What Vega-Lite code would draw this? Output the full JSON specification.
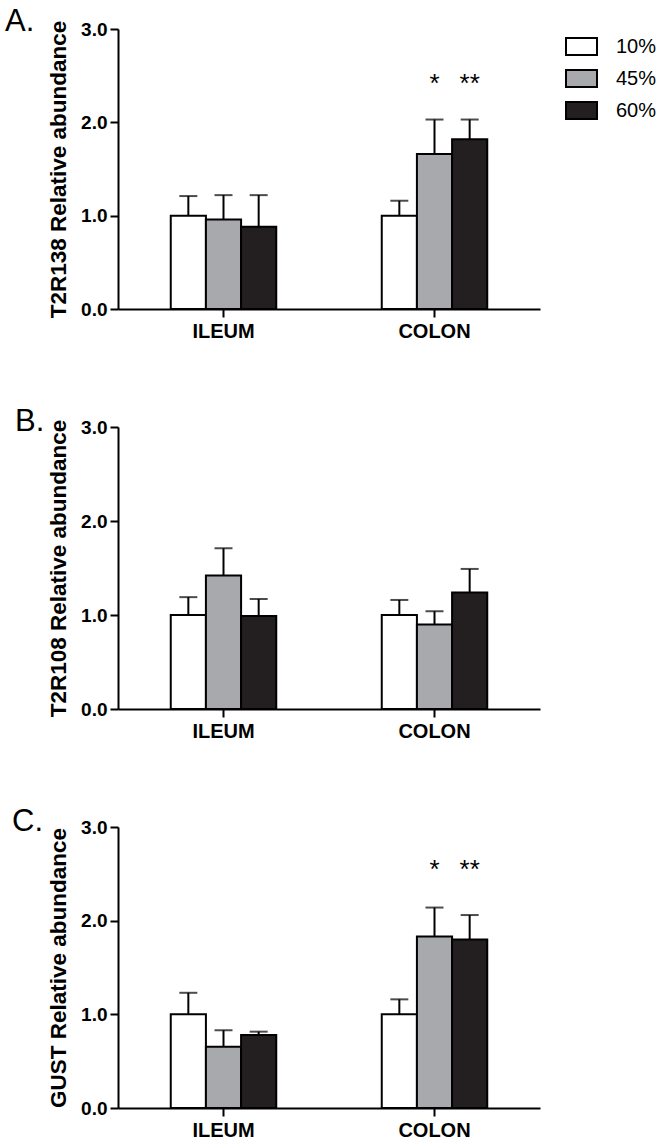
{
  "$schema": "https://vega.github.io/schema/vega-lite/v6.json",
  "padding": {"left": 5, "top": 6, "right": 0, "bottom": 0},
  "background": "white",
  "config": {
    "view": {"stroke": null},
    "font": "Liberation Sans",
    "axis": {
      "domainColor": "black", "domainWidth": 2, "tickColor": "black", "tickWidth": 2, "tickSize": 8,
      "labelColor": "black", "titleColor": "black", "grid": false, "labelFont": "Liberation Sans", "titleFont": "Liberation Sans"
    },
    "axisX": {"title": null, "labelAngle": 0, "labelFontSize": 20, "labelFontWeight": "bold", "bandPosition": 0.5, "labelPadding": 4},
    "axisY": {"labelFontSize": 19, "labelFontWeight": "bold", "titleFontSize": 22.5, "titleFontWeight": "bold", "titlePadding": 10, "labelPadding": 3},
    "title": {"font": "Liberation Sans", "fontSize": 31, "fontWeight": "normal", "color": "black", "anchor": "start", "frame": "group", "baseline": "alphabetic", "offset": 0}
  },
  "data": {"values": [
    {"panel": "A", "region": "ILEUM", "diet": "10%", "mean": 1.00, "upper": 1.21, "star": ""},
    {"panel": "A", "region": "ILEUM", "diet": "45%", "mean": 0.96, "upper": 1.22, "star": ""},
    {"panel": "A", "region": "ILEUM", "diet": "60%", "mean": 0.88, "upper": 1.22, "star": ""},
    {"panel": "A", "region": "COLON", "diet": "10%", "mean": 1.00, "upper": 1.16, "star": ""},
    {"panel": "A", "region": "COLON", "diet": "45%", "mean": 1.66, "upper": 2.03, "star": "*"},
    {"panel": "A", "region": "COLON", "diet": "60%", "mean": 1.82, "upper": 2.03, "star": "**"},
    {"panel": "B", "region": "ILEUM", "diet": "10%", "mean": 1.00, "upper": 1.19, "star": ""},
    {"panel": "B", "region": "ILEUM", "diet": "45%", "mean": 1.42, "upper": 1.71, "star": ""},
    {"panel": "B", "region": "ILEUM", "diet": "60%", "mean": 0.99, "upper": 1.17, "star": ""},
    {"panel": "B", "region": "COLON", "diet": "10%", "mean": 1.00, "upper": 1.16, "star": ""},
    {"panel": "B", "region": "COLON", "diet": "45%", "mean": 0.90, "upper": 1.04, "star": ""},
    {"panel": "B", "region": "COLON", "diet": "60%", "mean": 1.24, "upper": 1.49, "star": ""},
    {"panel": "C", "region": "ILEUM", "diet": "10%", "mean": 1.00, "upper": 1.23, "star": ""},
    {"panel": "C", "region": "ILEUM", "diet": "45%", "mean": 0.655, "upper": 0.83, "star": ""},
    {"panel": "C", "region": "ILEUM", "diet": "60%", "mean": 0.78, "upper": 0.815, "star": ""},
    {"panel": "C", "region": "COLON", "diet": "10%", "mean": 1.00, "upper": 1.16, "star": ""},
    {"panel": "C", "region": "COLON", "diet": "45%", "mean": 1.83, "upper": 2.14, "star": "*"},
    {"panel": "C", "region": "COLON", "diet": "60%", "mean": 1.80, "upper": 2.06, "star": "**"}
  ]},
  "resolve": {"scale": {"fill": "shared"}},
  "spacing": 65,
  "vconcat": [
    {
      "title": {"text": "A.", "dx": -113, "dy": 22},
      "width": 422, "height": 280,
      "transform": [{"filter": "datum.panel === 'A'"}],
      "encoding": {
        "x": {"field": "region", "type": "nominal", "sort": ["ILEUM", "COLON"], "scale": {"paddingInner": 0.5, "paddingOuter": 0.25}},
        "xOffset": {"field": "diet", "sort": ["10%", "45%", "60%"], "scale": {"paddingInner": 0, "paddingOuter": 0}}
      },
      "layer": [
        {"mark": {"type": "rule", "color": "black", "strokeWidth": 2},
         "encoding": {"y": {"field": "mean", "type": "quantitative"}, "y2": {"field": "upper"}}},
        {"mark": {"type": "tick", "color": "black", "size": 18, "thickness": 2},
         "encoding": {"y": {"field": "upper", "type": "quantitative"}}},
        {"mark": {"type": "bar", "stroke": "black", "strokeWidth": 2},
         "encoding": {
           "y": {"field": "mean", "type": "quantitative", "scale": {"domain": [0, 3]}, "axis": {"title": "T2R138 Relative abundance", "values": [0, 1, 2, 3], "format": ".1f"}},
           "fill": {"field": "diet", "type": "nominal", "sort": ["10%", "45%", "60%"],
                    "scale": {"domain": ["10%", "45%", "60%"], "range": ["#ffffff", "#a7a9ac", "#231f20"]},
                    "legend": {"title": null, "orient": "none", "legendX": 447, "legendY": 1, "labelFontSize": 20, "labelFont": "Liberation Sans", "labelColor": "black",
                               "symbolType": "M-1,-0.55H1V0.55H-1Z", "symbolSize": 961, "symbolStrokeColor": "black", "symbolStrokeWidth": 2, "rowPadding": 2, "labelOffset": 18, "padding": 0}}
         }},
        {"mark": {"type": "text", "fontSize": 26, "color": "black", "baseline": "middle", "dy": 5},
         "encoding": {"y": {"datum": 2.46}, "text": {"field": "star"}}}
      ]
    },
    {
      "title": {"text": "B.", "dx": -103, "dy": 24},
      "width": 422, "height": 282,
      "transform": [{"filter": "datum.panel === 'B'"}],
      "encoding": {
        "x": {"field": "region", "type": "nominal", "sort": ["ILEUM", "COLON"], "scale": {"paddingInner": 0.5, "paddingOuter": 0.25}},
        "xOffset": {"field": "diet", "sort": ["10%", "45%", "60%"], "scale": {"paddingInner": 0, "paddingOuter": 0}}
      },
      "layer": [
        {"mark": {"type": "rule", "color": "black", "strokeWidth": 2},
         "encoding": {"y": {"field": "mean", "type": "quantitative"}, "y2": {"field": "upper"}}},
        {"mark": {"type": "tick", "color": "black", "size": 18, "thickness": 2},
         "encoding": {"y": {"field": "upper", "type": "quantitative"}}},
        {"mark": {"type": "bar", "stroke": "black", "strokeWidth": 2},
         "encoding": {
           "y": {"field": "mean", "type": "quantitative", "scale": {"domain": [0, 3]}, "axis": {"title": "T2R108 Relative abundance", "values": [0, 1, 2, 3], "format": ".1f"}},
           "fill": {"field": "diet", "type": "nominal", "sort": ["10%", "45%", "60%"], "legend": null,
                    "scale": {"domain": ["10%", "45%", "60%"], "range": ["#ffffff", "#939598", "#231f20"]}}
         }}
      ]
    },
    {
      "title": {"text": "C.", "dx": -106, "dy": 24},
      "width": 422, "height": 281,
      "transform": [{"filter": "datum.panel === 'C'"}],
      "encoding": {
        "x": {"field": "region", "type": "nominal", "sort": ["ILEUM", "COLON"], "scale": {"paddingInner": 0.5, "paddingOuter": 0.25}},
        "xOffset": {"field": "diet", "sort": ["10%", "45%", "60%"], "scale": {"paddingInner": 0, "paddingOuter": 0}}
      },
      "layer": [
        {"mark": {"type": "rule", "color": "black", "strokeWidth": 2},
         "encoding": {"y": {"field": "mean", "type": "quantitative"}, "y2": {"field": "upper"}}},
        {"mark": {"type": "tick", "color": "black", "size": 18, "thickness": 2},
         "encoding": {"y": {"field": "upper", "type": "quantitative"}}},
        {"mark": {"type": "bar", "stroke": "black", "strokeWidth": 2},
         "encoding": {
           "y": {"field": "mean", "type": "quantitative", "scale": {"domain": [0, 3]}, "axis": {"title": "GUST Relative abundance", "values": [0, 1, 2, 3], "format": ".1f"}},
           "fill": {"field": "diet", "type": "nominal", "sort": ["10%", "45%", "60%"], "legend": null,
                    "scale": {"domain": ["10%", "45%", "60%"], "range": ["#ffffff", "#939598", "#231f20"]}}
         }},
        {"mark": {"type": "text", "fontSize": 26, "color": "black", "baseline": "middle", "dy": 5},
         "encoding": {"y": {"datum": 2.59}, "text": {"field": "star"}}}
      ]
    }
  ]
}
